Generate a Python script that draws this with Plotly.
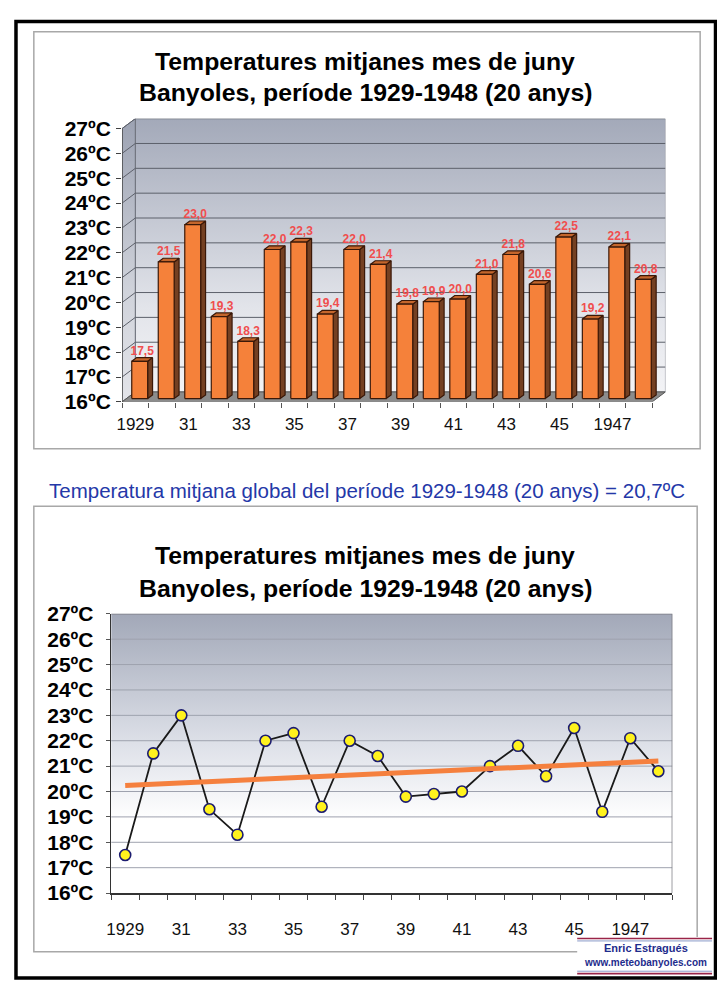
import numpy as np
import plotly.graph_objects as go

# ---------------- data ----------------
years = list(range(1929, 1949))
temps = [17.5, 21.5, 23.0, 19.3, 18.3, 22.0, 22.3, 19.4, 22.0, 21.4,
         19.8, 19.9, 20.0, 21.0, 21.8, 20.6, 22.5, 19.2, 22.1, 20.8]
tick_years = [1929, 1931, 1933, 1935, 1937, 1939, 1941, 1943, 1945, 1947]
tick_text = ["1929", "31", "33", "35", "37", "39", "41", "43", "45", "1947"]
y_ticks = list(range(16, 28))
y_text = [f"{t}ºC" for t in y_ticks]
bar_labels = [f"{v:.1f}".replace(".", ",") for v in temps]
title_line1 = "Temperatures mitjanes mes de juny"
title_line2 = "Banyoles, període 1929-1948 (20 anys)"
mean_val = float(np.mean(temps))
mean_str = f"{mean_val:.1f}".replace(".", ",")
mean_text = f"Temperatura mitjana global del període 1929-1948 (20 anys) = {mean_str}ºC"
author = "Enric Estragués"
website = "www.meteobanyoles.com"

# ---------------- page geometry ----------------
# The page body keeps the browser's default 8px margin, so the figure is
# 16px smaller than the window and page coordinates are shifted by 8px.
PAGE_W, PAGE_H = 725, 999
OFF = 8
FW, FH = PAGE_W - 2 * OFF, PAGE_H - 2 * OFF
def px(x):
    return (x - OFF) / FW
def py(y):
    return 1 - (y - OFF) / FH

FONT = "Liberation Sans, Arial, sans-serif"
Y0 = 16
YMAX = 27
X0, X1 = years[0] - 0.5, years[-1] + 0.5

# 3-D parameters (top chart)
DX, DY = 0.5, 0.4            # depth offset of the back wall
BW = 0.6                     # bar width
f0, f1 = 0.33, 0.70          # bar front/back depth fractions
sx, sy = f0 * DX, f0 * DY
bdx, bdy = (f1 - f0) * DX, (f1 - f0) * DY

ORANGE = "#F5813A"
SIDE = "#744022"
TOP = "#C4662C"
EDGE = "#3A1808"

fig = go.Figure()

# ---- top chart: walls ----
wall_cs = [[0, "#F6F6F8"], [0.35, "#E2E4EA"], [1, "#A3A9B9"]]
fig.add_trace(go.Scatter(
    x=[X0 + DX, X1 + DX, X1 + DX, X0 + DX, X0 + DX],
    y=[Y0 + DY, Y0 + DY, YMAX + DY, YMAX + DY, Y0 + DY],
    mode="lines", fill="toself", line=dict(color="#8A8E98", width=1),
    fillgradient=dict(type="vertical", colorscale=wall_cs, start=Y0, stop=YMAX + DY),
    hoverinfo="skip", showlegend=False, xaxis="x", yaxis="y"))
fig.add_trace(go.Scatter(
    x=[X0, X0 + DX, X0 + DX, X0, X0],
    y=[Y0, Y0 + DY, YMAX + DY, YMAX, Y0],
    mode="lines", fill="toself", line=dict(color="#6A6E78", width=1),
    fillgradient=dict(type="vertical", colorscale=[[0, "#E4E5EA"], [0.4, "#D0D3DB"], [1, "#9CA2B2"]],
                      start=Y0, stop=YMAX + DY),
    hoverinfo="skip", showlegend=False, xaxis="x", yaxis="y"))
# gridlines on walls
gx, gy = [], []
for k in y_ticks[1:]:
    gx += [X0, X0 + DX, X1 + DX, None]
    gy += [k, k + DY, k + DY, None]
fig.add_trace(go.Scatter(x=gx, y=gy, mode="lines", line=dict(color="#5C606A", width=1),
                         hoverinfo="skip", showlegend=False, xaxis="x", yaxis="y"))
# floor
fig.add_trace(go.Scatter(
    x=[X0, X1, X1 + DX, X0 + DX, X0],
    y=[Y0, Y0, Y0 + DY, Y0 + DY, Y0],
    mode="lines", fill="toself", fillcolor="#8C8C8C", line=dict(color="#555555", width=1),
    hoverinfo="skip", showlegend=False, xaxis="x", yaxis="y"))
# front axis line
fig.add_trace(go.Scatter(x=[X0, X0], y=[Y0, YMAX], mode="lines",
                         line=dict(color="#404040", width=1.2),
                         hoverinfo="skip", showlegend=False, xaxis="x", yaxis="y"))

# ---- top chart: bars ----
side_x, side_y, top_x, top_y, fr_x, fr_y = [], [], [], [], [], []
for yr, v in zip(years, temps):
    xl, xr = yr + sx - BW / 2, yr + sx + BW / 2
    b, t = Y0 + sy, v + sy
    side_x += [xr, xr + bdx, xr + bdx, xr, xr, None]
    side_y += [b, b + bdy, t + bdy, t, b, None]
    top_x += [xl, xr, xr + bdx, xl + bdx, xl, None]
    top_y += [t, t, t + bdy, t + bdy, t, None]
    fr_x += [xl, xr, xr, xl, xl, None]
    fr_y += [b, b, t, t, b, None]
for xs, ys, col in [(side_x, side_y, SIDE), (top_x, top_y, TOP), (fr_x, fr_y, ORANGE)]:
    fig.add_trace(go.Scatter(x=xs, y=ys, mode="lines", fill="toself", fillcolor=col,
                             line=dict(color=EDGE, width=1.2),
                             hoverinfo="skip", showlegend=False, xaxis="x", yaxis="y"))
fig.add_trace(go.Scatter(
    x=[yr + sx + bdx / 2 for yr in years], y=[v + sy + bdy for v in temps],
    mode="text", text=bar_labels, textposition="top center",
    textfont=dict(family=FONT, size=12, color="#F04E4E", weight="bold"),
    hoverinfo="skip", showlegend=False, xaxis="x", yaxis="y", cliponaxis=False))

# ---- bottom chart ----
fig.add_trace(go.Scatter(
    x=[X0, X1, X1, X0, X0], y=[Y0, Y0, YMAX, YMAX, Y0],
    mode="lines", fill="toself", line=dict(width=0),
    fillgradient=dict(type="vertical",
                      colorscale=[[0, "#FFFFFF"], [0.28, "#FFFFFF"], [0.55, "#DDE0E8"], [1, "#A2A8B8"]],
                      start=Y0, stop=YMAX),
    hoverinfo="skip", showlegend=False, xaxis="x2", yaxis="y2"))
bgx, bgy = [], []
for k in y_ticks[1:-1]:
    bgx += [X0, X1, None]
    bgy += [k, k, None]
fig.add_trace(go.Scatter(x=bgx, y=bgy, mode="lines", line=dict(color="#9EA2AE", width=1),
                         hoverinfo="skip", showlegend=False, xaxis="x2", yaxis="y2"))
fig.add_trace(go.Scatter(x=[X0, X1, X1], y=[YMAX, YMAX, Y0], mode="lines",
                         line=dict(color="#7C7C84", width=1.5),
                         hoverinfo="skip", showlegend=False, xaxis="x2", yaxis="y2"))
fig.add_trace(go.Scatter(
    x=years, y=temps, mode="lines+markers",
    line=dict(color="#1A1A1A", width=1.8),
    marker=dict(size=11, color="#FFF21E", line=dict(color="#1C1C70", width=1.6)),
    hoverinfo="skip", showlegend=False, xaxis="x2", yaxis="y2", cliponaxis=False))
slope, icpt = np.polyfit(years, temps, 1)
trend = [slope * yr + icpt for yr in years]
fig.add_trace(go.Scatter(x=[years[0], years[-1]], y=[trend[0], trend[-1]], mode="lines",
                         line=dict(color="#F5803E", width=5),
                         hoverinfo="skip", showlegend=False, xaxis="x2", yaxis="y2"))

# ---------------- axes ----------------
tickfont_x = dict(family=FONT, size=17, color="#111111")
tickfont_y = dict(family=FONT, size=21, color="#000000", weight="bold")
fig.update_layout(
    xaxis=dict(domain=[px(117), px(665)], range=[X0, X1 + DX], showgrid=False, zeroline=False,
               showline=False, tickmode="array", tickvals=tick_years, ticktext=tick_text,
               ticks="", tickfont=tickfont_x, ticklabelstandoff=10,
               minor=dict(tickmode="linear", tick0=X0, dtick=1, ticks="outside", ticklen=5,
                          tickcolor="#555555", showgrid=False),
               anchor="y", fixedrange=True),
    yaxis=dict(domain=[py(399), py(109)], range=[Y0, YMAX + DY], showgrid=False, zeroline=False,
               showline=False, tickmode="array", tickvals=y_ticks, ticktext=y_text,
               ticks="outside", ticklen=5, tickcolor="#404040", tickfont=tickfont_y,
               ticklabelstandoff=1, anchor="x", fixedrange=True),
    xaxis2=dict(domain=[px(106), px(672)], range=[X0, X1], showgrid=False, zeroline=False,
                showline=True, linecolor="#333333", linewidth=1.5,
                tickmode="array", tickvals=tick_years, ticktext=tick_text,
                ticks="", tickfont=tickfont_x, ticklabelstandoff=20,
                minor=dict(tickmode="linear", tick0=X0, dtick=1, ticks="outside", ticklen=5,
                           tickcolor="#444444", showgrid=False),
                anchor="y2", fixedrange=True),
    yaxis2=dict(domain=[py(902), py(616)], range=[Y0, YMAX], showgrid=False, zeroline=False,
                showline=True, linecolor="#333333", linewidth=1.5,
                tickmode="array", tickvals=y_ticks, ticktext=y_text,
                ticks="outside", ticklen=4, tickcolor="#555555", tickfont=tickfont_y,
                ticklabelstandoff=8, anchor="x2", fixedrange=True),
)

# ---------------- frames & texts ----------------
def hline(x0, x1, y, color, width):
    return dict(type="line", xref="paper", yref="paper", x0=px(x0), x1=px(x1), y0=py(y), y1=py(y),
                line=dict(color=color, width=width))

shapes = [
    dict(type="rect", xref="paper", yref="paper", x0=px(10), x1=px(715.5), y0=py(989), y1=py(9.5),
         line=dict(color="#000000", width=3.5), fillcolor="rgba(0,0,0,0)", layer="below"),
    dict(type="rect", xref="paper", yref="paper", x0=px(28), x1=px(700), y0=py(447), y1=py(20),
         line=dict(color="#A8A8A8", width=1.5), fillcolor="rgba(0,0,0,0)", layer="below"),
    dict(type="rect", xref="paper", yref="paper", x0=px(28), x1=px(697), y0=py(962), y1=py(506),
         line=dict(color="#A8A8A8", width=1.5), fillcolor="rgba(0,0,0,0)", layer="below"),
    dict(type="rect", xref="paper", yref="paper", x0=px(576), x1=px(712), y0=py(985), y1=py(947),
         line=dict(width=0), fillcolor="#FFFFFF", layer="above"),
    hline(576, 712, 948.5, "#9A2448", 1.6),
    hline(576, 712, 951, "#8A9AC8", 1),
    hline(576, 712, 982, "#8A9AC8", 1),
    hline(576, 712, 984.5, "#9A2448", 1.6),
]

title_font = dict(family=FONT, size=24.8, color="#000000", weight="bold")
annotations = []
for line, yc in [(title_line1, 51), (title_line2, 82), (title_line1, 556), (title_line2, 590)]:
    annotations.append(dict(text=line, xref="paper", yref="paper", x=px(362), y=py(yc),
                            xanchor="center", yanchor="middle", showarrow=False, font=title_font))
annotations.append(dict(text=mean_text, xref="paper", yref="paper", x=px(364), y=py(490),
                        xanchor="center", yanchor="middle", showarrow=False,
                        font=dict(family=FONT, size=20.5, color="#2438A8")))
annotations.append(dict(text=author, xref="paper", yref="paper", x=px(645), y=py(958.5),
                        xanchor="center", yanchor="middle", showarrow=False,
                        font=dict(family=FONT, size=11, color="#1E2C8C", weight="bold")))
annotations.append(dict(text=website, xref="paper", yref="paper", x=px(645), y=py(973.5),
                        xanchor="center", yanchor="middle", showarrow=False,
                        font=dict(family=FONT, size=10, color="#1E2C8C", weight="bold")))

fig.update_layout(
    width=FW, height=FH, autosize=False,
    margin=dict(l=0, r=0, t=0, b=0, pad=0),
    paper_bgcolor="#FFFFFF", plot_bgcolor="rgba(0,0,0,0)",
    shapes=shapes, annotations=annotations, showlegend=False,
    font=dict(family=FONT),
)

fig.write_html("out.html", config={"displayModeBar": False, "staticPlot": True})
